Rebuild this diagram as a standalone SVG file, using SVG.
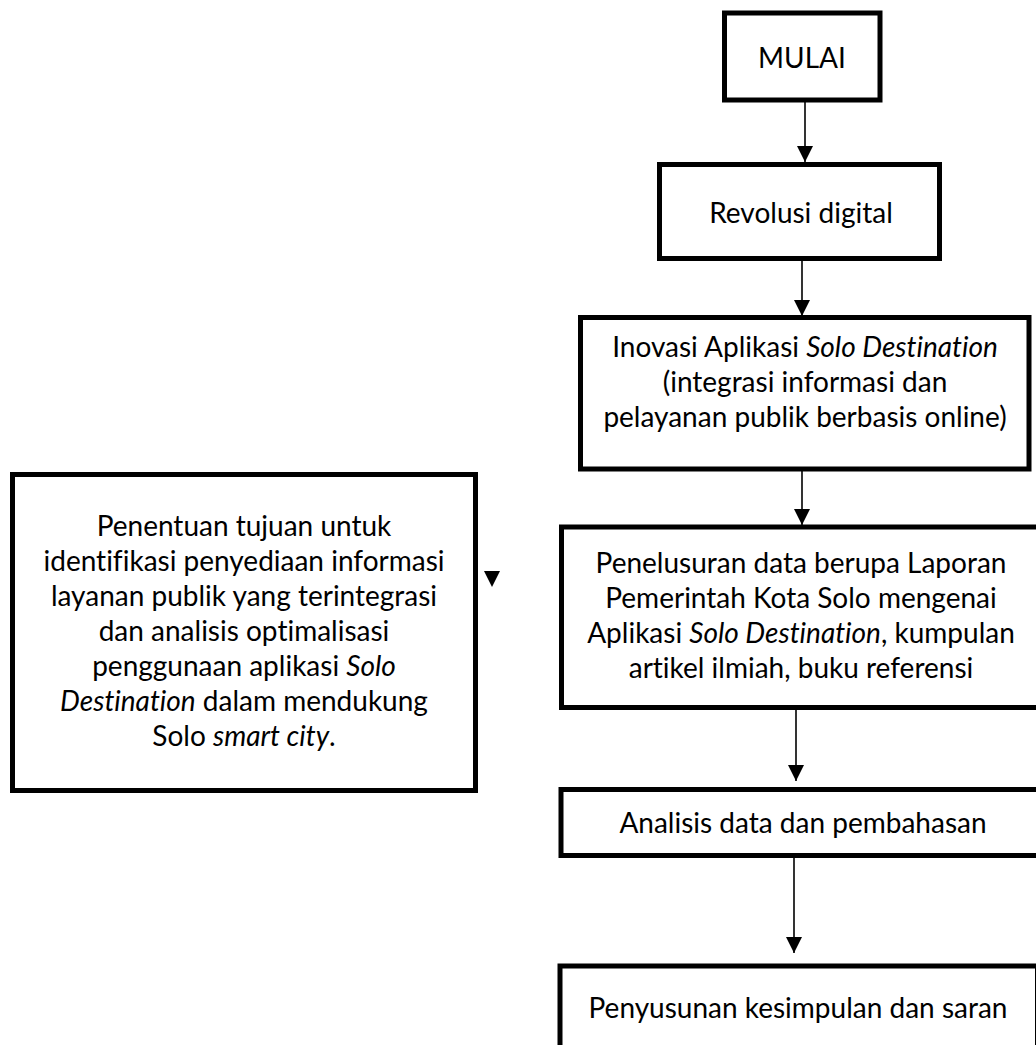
<svg xmlns="http://www.w3.org/2000/svg" width="1036" height="1045" viewBox="0 0 1036 1045">
<style>
.box{fill:#fff;stroke:#000;stroke-width:5;stroke-linejoin:miter}
.t{font-family:Lato,"Open Sans","Liberation Sans",sans-serif;font-size:28px;fill:#000;text-anchor:middle;font-variant-ligatures:none;font-feature-settings:"liga" 0,"clig" 0,"dlig" 0}
.i{font-style:italic}
.c{stroke:#000;stroke-width:1.6;fill:none}
</style>
<defs>
<marker id="ah" markerUnits="userSpaceOnUse" markerWidth="16" markerHeight="16" viewBox="0 0 16 16" refX="16" refY="8" orient="auto">
<path d="M0,0 L16,8 L0,16 Z" fill="#000"/>
</marker>
</defs>
<rect width="1036" height="1045" fill="#fff"/>
<g id="connectors">
<line class="c" x1="805" y1="100" x2="805" y2="162" marker-end="url(#ah)"/>
<line class="c" x1="802" y1="260" x2="802" y2="316" marker-end="url(#ah)"/>
<line class="c" x1="802" y1="463" x2="802" y2="525" marker-end="url(#ah)"/>
<line class="c" x1="796" y1="703" x2="796" y2="781" marker-end="url(#ah)"/>
<line class="c" x1="794" y1="857" x2="794" y2="953" marker-end="url(#ah)"/>
<path d="M484,571 L500,571 L492,587 Z" fill="#000"/>
</g>
<g id="mulai">
<rect class="box" x="724.5" y="13" width="155.5" height="87"/>
<text class="t" x="802" y="68">MULAI</text>
</g>
<g id="revolusi">
<rect class="box" x="659.5" y="164.5" width="280" height="94"/>
<text class="t" x="801" y="223">Revolusi digital</text>
</g>
<g id="inovasi">
<rect class="box" x="580.5" y="317.5" width="448.5" height="151.5"/>
<text class="t" x="805" y="357">Inovasi Aplikasi <tspan class="i">Solo Destination</tspan></text>
<text class="t" x="805" y="392">(integrasi informasi dan</text>
<text class="t" x="805" y="427">pelayanan publik berbasis online)</text>
</g>
<g id="penelusuran">
<rect class="box" x="561.5" y="527" width="490" height="180.5"/>
<text class="t" x="801" y="573">Penelusuran data berupa Laporan</text>
<text class="t" x="801" y="608">Pemerintah Kota Solo mengenai</text>
<text class="t" x="801" y="643">Aplikasi <tspan class="i">Solo Destination</tspan>, kumpulan</text>
<text class="t" x="801" y="678">artikel ilmiah, buku referensi</text>
</g>
<g id="analisis">
<rect class="box" x="561" y="789.5" width="490" height="66"/>
<text class="t" x="803" y="833">Analisis data dan pembahasan</text>
</g>
<g id="penyusunan">
<rect class="box" x="560" y="966" width="477.5" height="100"/>
<text class="t" x="798" y="1018">Penyusunan kesimpulan dan saran</text>
</g>
<g id="penentuan">
<rect class="box" x="12.5" y="474.5" width="463" height="316"/>
<text class="t" x="244" y="536">Penentuan tujuan untuk</text>
<text class="t" x="244" y="571">identifikasi penyediaan informasi</text>
<text class="t" x="244" y="606">layanan publik yang terintegrasi</text>
<text class="t" x="244" y="641">dan analisis optimalisasi</text>
<text class="t" x="244" y="676">penggunaan aplikasi <tspan class="i">Solo</tspan></text>
<text class="t" x="244" y="711"><tspan class="i">Destination</tspan> dalam mendukung</text>
<text class="t" x="244" y="746">Solo <tspan class="i">smart city</tspan>.</text>
</g>
</svg>
